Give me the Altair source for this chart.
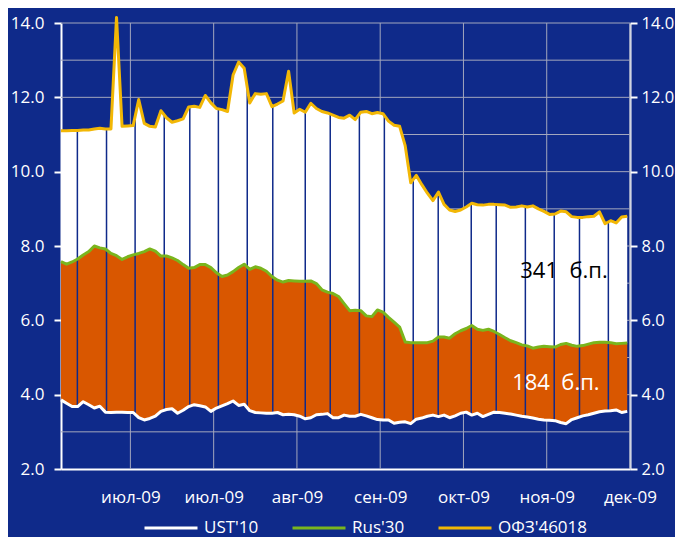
import altair as alt
import pandas as pd
import numpy as np

# x grid: days since 6 June 2009 (every second day)
day = list(range(0, 205, 2))

ust = [3.86, 3.77, 3.68, 3.68, 3.81, 3.73, 3.64, 3.69, 3.53, 3.52,
       3.53, 3.53, 3.52, 3.52, 3.38, 3.32, 3.36, 3.42, 3.55, 3.60,
       3.62, 3.50, 3.58, 3.68, 3.73, 3.70, 3.67, 3.55, 3.64, 3.70,
       3.76, 3.83, 3.71, 3.74, 3.57, 3.52, 3.51, 3.50, 3.50, 3.52,
       3.46, 3.47, 3.46, 3.42, 3.35, 3.38, 3.46, 3.47, 3.49, 3.38,
       3.38, 3.45, 3.42, 3.42, 3.47, 3.43, 3.38, 3.33, 3.32, 3.32,
       3.23, 3.26, 3.27, 3.22, 3.34, 3.37, 3.42, 3.45, 3.41, 3.45,
       3.38, 3.43, 3.50, 3.53, 3.45, 3.50, 3.41, 3.47, 3.53, 3.52,
       3.50, 3.48, 3.45, 3.42, 3.40, 3.37, 3.34, 3.32, 3.31, 3.30,
       3.25, 3.22, 3.33, 3.38, 3.43, 3.46, 3.50, 3.54, 3.56, 3.57,
       3.59, 3.52, 3.55]

rus = [7.58, 7.51, 7.57, 7.65, 7.76, 7.85, 8.00, 7.95, 7.92, 7.80,
       7.74, 7.64, 7.71, 7.76, 7.80, 7.85, 7.92, 7.86, 7.73, 7.73,
       7.68, 7.61, 7.50, 7.40, 7.42, 7.50, 7.50, 7.42, 7.28, 7.18,
       7.22, 7.31, 7.42, 7.51, 7.37, 7.44, 7.40, 7.32, 7.18, 7.08,
       7.03, 7.07, 7.06, 7.05, 7.05, 7.06, 6.99, 6.82, 6.76, 6.72,
       6.64, 6.45, 6.26, 6.27, 6.26, 6.12, 6.10, 6.28, 6.22, 6.08,
       5.95, 5.82, 5.42, 5.40, 5.40, 5.40, 5.40, 5.44, 5.55, 5.55,
       5.52, 5.64, 5.72, 5.78, 5.86, 5.76, 5.73, 5.76, 5.70, 5.62,
       5.53, 5.45, 5.40, 5.34, 5.31, 5.25, 5.28, 5.30, 5.29, 5.28,
       5.35, 5.38, 5.33, 5.30, 5.32, 5.36, 5.40, 5.41, 5.41, 5.40,
       5.37, 5.38, 5.39]

ofz = [11.10, 11.10, 11.11, 11.11, 11.12, 11.12, 11.15, 11.17, 11.15, 11.15,
       14.15, 11.22, 11.23, 11.24, 11.94, 11.30, 11.22, 11.20, 11.64, 11.45,
       11.33, 11.37, 11.42, 11.74, 11.76, 11.73, 12.05, 11.85, 11.70, 11.67,
       11.62, 12.60, 12.95, 12.78, 11.85, 12.10, 12.08, 12.10, 11.75, 11.82,
       11.90, 12.70, 11.58, 11.68, 11.60, 11.84, 11.70, 11.62, 11.58, 11.52,
       11.46, 11.44, 11.52, 11.40, 11.60, 11.62, 11.56, 11.59, 11.56, 11.36,
       11.25, 11.22, 10.70, 9.70, 9.90, 9.65, 9.42, 9.22, 9.45, 9.12,
       8.97, 8.93, 8.97, 9.05, 9.15, 9.11, 9.10, 9.12, 9.12, 9.11,
       9.10, 9.04, 9.05, 9.08, 9.05, 9.08, 9.00, 8.93, 8.85, 8.86,
       8.94, 8.92, 8.79, 8.77, 8.77, 8.79, 8.80, 8.92, 8.60, 8.68,
       8.62, 8.78, 8.80]

series_names = ["UST'10", "Rus'30", "ОФЗ'46018"]
series_colors = ["#ffffff", "#7ab51d", "#f2b705"]

tick_days = [25, 55, 85, 115, 145, 175, 205]
tick_labels = ["июл-09", "июл-09", "авг-09", "сен-09", "окт-09", "ноя-09", "дек-09"]
y_ticks = [2, 4, 6, 8, 10, 12, 14]
hgrid = [3, 4, 5, 6, 7, 8, 9, 10, 11, 12, 13, 14]
minor_days = [5.9, 16.4, 26.7, 37.2, 46.4, 56.7, 67.1, 76.3, 88.0, 97.0,
              107.5, 116.5, 126.9, 135.9, 147.8, 156.8, 167.3, 177.7, 186.8, 197.2]

BG = "#0f2a8a"
ORANGE = "#d95700"
GRID = "#a3a7bd"
FONT = "Open Sans"

wide = pd.DataFrame({"day": day, "ust": ust, "rus": rus, "ofz": ofz})
long = pd.DataFrame({
    "day": day * 3,
    "value": ust + rus + ofz,
    "series": [n for n in series_names for _ in day],
})
minor = pd.DataFrame({
    "day": minor_days,
    "lo": np.interp(minor_days, day, ust),
    "hi": np.interp(minor_days, day, ofz),
})
spread1 = round((ofz[-1] - rus[-1]) * 100)
spread2 = round((rus[-1] - ust[-1]) * 100)
ann_top = pd.DataFrame({"day": [181.2], "value": [7.33], "label": [f"{spread1}\u00a0 б.п."]})
ann_bot = pd.DataFrame({"day": [178.3], "value": [4.32], "label": [f"{spread2}\u00a0 б.п."]})

xscale = alt.Scale(domain=[0, 205], nice=False, zero=False)
yscale = alt.Scale(domain=[2, 14], nice=False, zero=False)

left_axis = alt.Axis(orient="left", values=y_ticks, format=".1f", tickSize=7,
                     labelPadding=10, title=None, grid=False)
right_axis = alt.Axis(orient="right", values=y_ticks, format=".1f", tickSize=7,
                      labelPadding=4, labelFontSize=16.5, title=None, grid=False)
x_axis = alt.Axis(orient="bottom", values=tick_days,
                  labelExpr=f"{tick_labels}[indexof({tick_days}, datum.value)]",
                  ticks=False, tickSize=0, labelPadding=20, title=None, grid=False,
                  labelFlush=False)

hgrid_layer = alt.Chart(pd.DataFrame({"v": hgrid})).mark_rule(
    color=GRID, strokeWidth=1
).encode(y=alt.Y("v:Q", scale=yscale, axis=right_axis))

vgrid_layer = alt.Chart(pd.DataFrame({"d": tick_days})).mark_rule(
    color=GRID, strokeWidth=1
).encode(x=alt.X("d:Q", scale=xscale, axis=x_axis))

orange_area = alt.Chart(wide).mark_area(color=ORANGE, opacity=1, clip=False).encode(
    x=alt.X("day:Q", scale=xscale, axis=None),
    y=alt.Y("ust:Q", scale=yscale, axis=left_axis),
    y2="rus:Q",
)

white_area = alt.Chart(wide).mark_area(color="#ffffff", opacity=1, clip=False).encode(
    x=alt.X("day:Q", scale=xscale, axis=None),
    y=alt.Y("rus:Q", scale=yscale, axis=None),
    y2="ofz:Q",
)

minor_rules = alt.Chart(minor).mark_rule(color=BG, strokeWidth=1.5).encode(
    x=alt.X("day:Q", scale=xscale, axis=None),
    y=alt.Y("lo:Q", scale=yscale, axis=None),
    y2="hi:Q",
)

lines = alt.Chart(long).mark_line(strokeWidth=3, strokeJoin="round", clip=False).encode(
    x=alt.X("day:Q", scale=xscale, axis=None),
    y=alt.Y("value:Q", scale=yscale, axis=None),
    color=alt.Color(
        "series:N",
        scale=alt.Scale(domain=series_names, range=series_colors),
        sort=series_names,
        legend=alt.Legend(
            title=None, orient="none", legendX=82, legendY=477,
            direction="horizontal", symbolType="stroke", symbolSize=2809,
            symbolStrokeWidth=3, labelColor="white", labelFontSize=17,
            labelFont=FONT, columnPadding=27, labelOffset=5,
        ),
    ),
)

text_top = alt.Chart(ann_top).mark_text(font=FONT, fontSize=22, align="center",
                                        baseline="middle", color="#000000").encode(
    x=alt.X("day:Q", scale=xscale, axis=None),
    y=alt.Y("value:Q", scale=yscale, axis=None),
    text="label:N",
)
text_bot = alt.Chart(ann_bot).mark_text(font=FONT, fontSize=22, align="center",
                                        baseline="middle", color="#ffffff").encode(
    x=alt.X("day:Q", scale=xscale, axis=None),
    y=alt.Y("value:Q", scale=yscale, axis=None),
    text="label:N",
)

chart = alt.layer(
    hgrid_layer, vgrid_layer, orange_area, white_area, minor_rules, lines,
    text_top, text_bot
).resolve_axis(x="independent", y="independent").properties(
    width=569, height=446, background=BG,
    padding={"left": 53, "top": 15, "right": 45, "bottom": 68},
    autosize=alt.AutoSizeParams(type="none"),
).configure_view(stroke=None).configure_axis(
    labelFont=FONT, labelFontSize=17, labelColor="white",
    domainColor="white", domainWidth=2, tickColor="white", tickWidth=2,
)

chart.save("out.html", embed_options={"renderer": "svg", "actions": False})
